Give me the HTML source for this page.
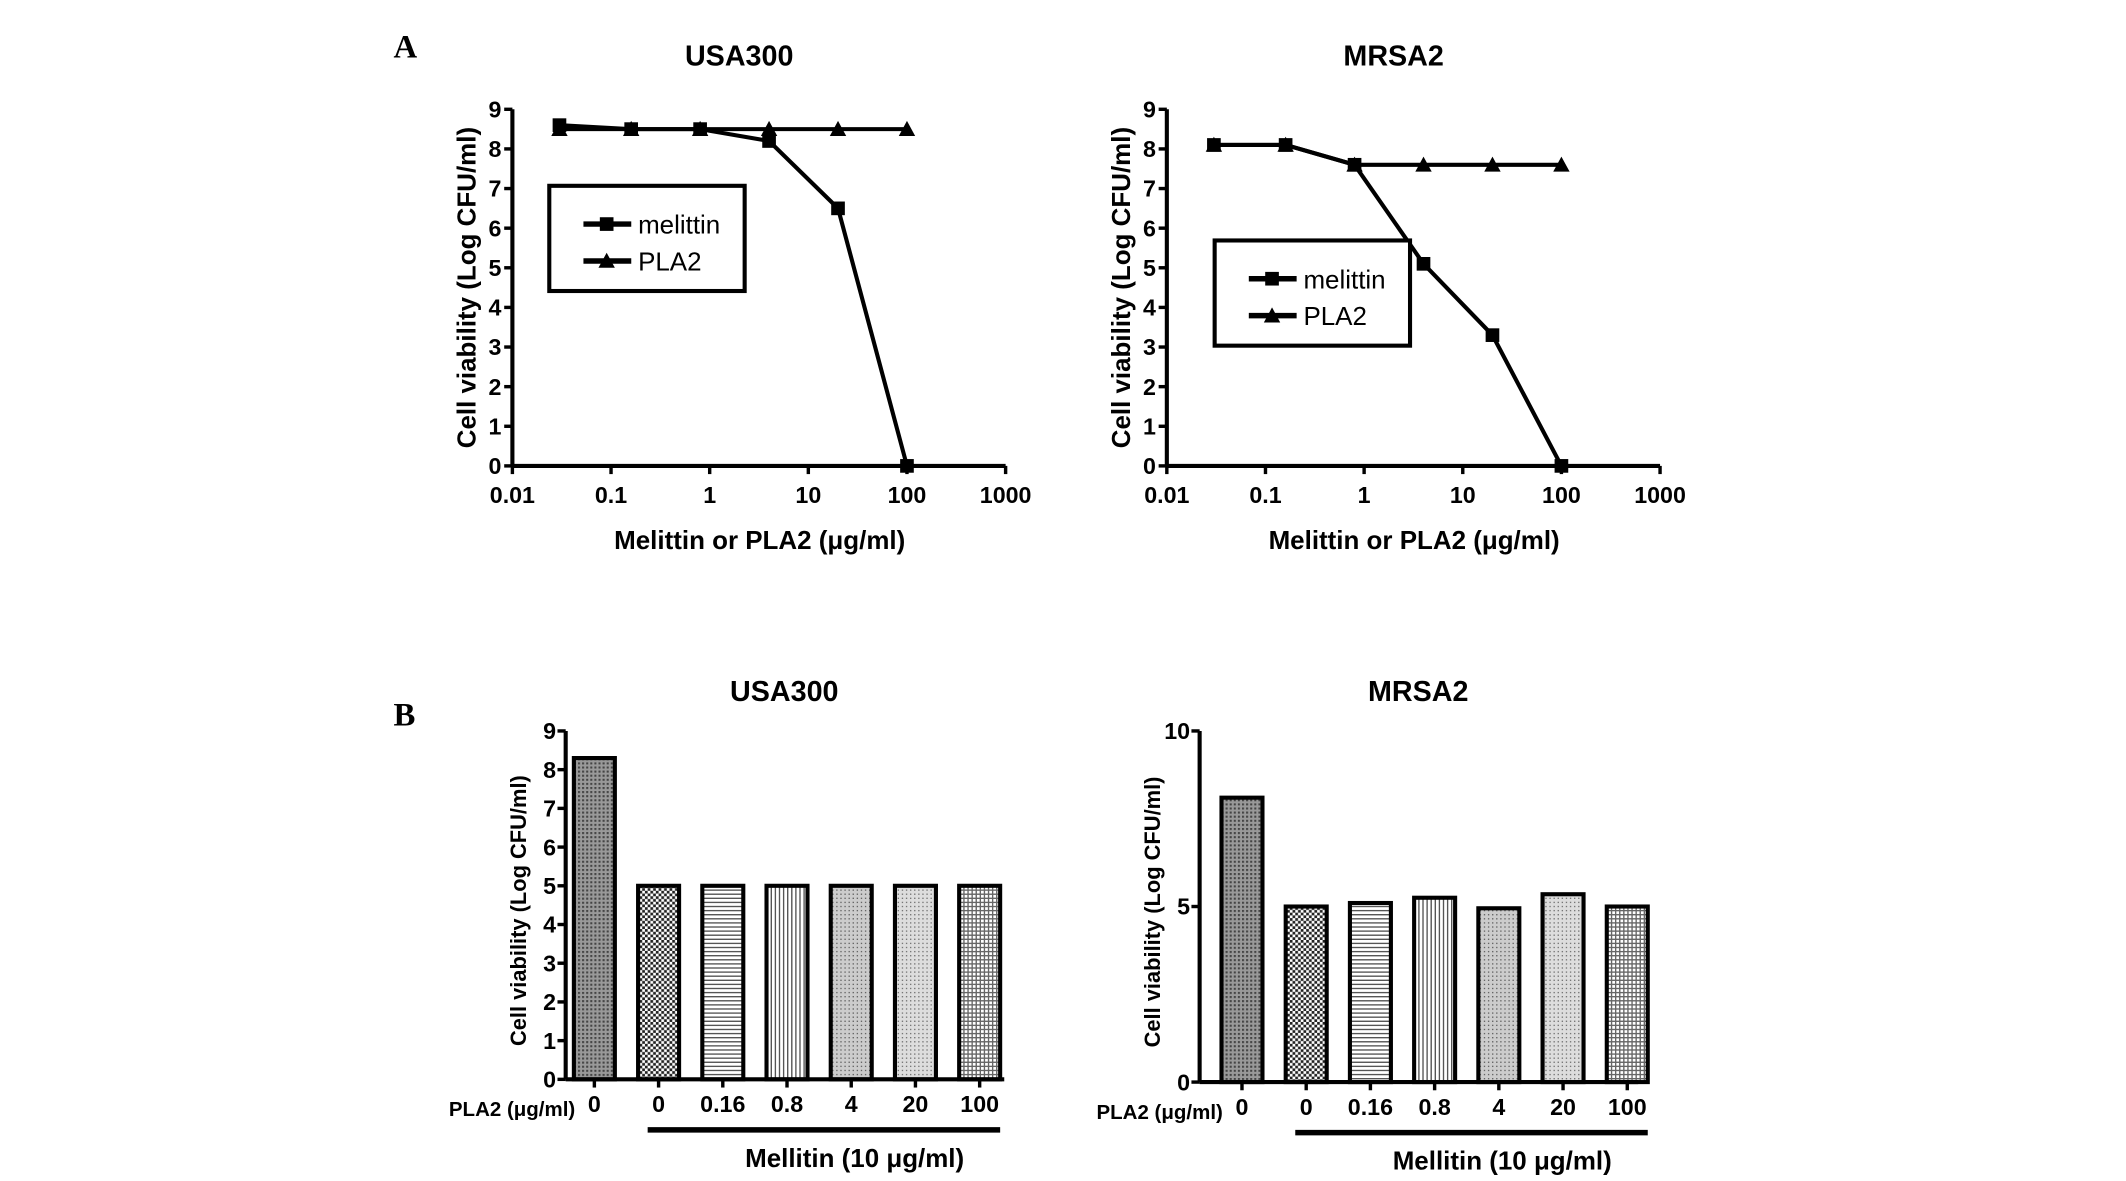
<!DOCTYPE html>
<html><head><meta charset="utf-8"><style>
html,body{margin:0;padding:0;background:#fff}
svg{display:block;font-family:"Liberation Sans",Arial,sans-serif}
</style></head><body>
<svg id="fig" width="2126" height="1181" viewBox="0 0 1556 864.4" xmlns="http://www.w3.org/2000/svg">
<defs>
<pattern id="p0" width="3" height="3" patternUnits="userSpaceOnUse"><rect width="3" height="3" fill="#999"/><rect width="1.5" height="1.5" fill="#444"/></pattern>
<pattern id="p1" width="4" height="4" patternUnits="userSpaceOnUse"><rect width="4" height="4" fill="#fff"/><rect width="2" height="2" fill="#222"/><rect x="2" y="2" width="2" height="2" fill="#222"/></pattern>
<pattern id="p2" width="4" height="3" patternUnits="userSpaceOnUse"><rect width="4" height="3" fill="#fff"/><rect width="4" height="1" fill="#555"/></pattern>
<pattern id="p3" width="3" height="4" patternUnits="userSpaceOnUse"><rect width="3" height="4" fill="#fff"/><rect width="1" height="4" fill="#555"/></pattern>
<pattern id="p4" width="3" height="3" patternUnits="userSpaceOnUse"><rect width="3" height="3" fill="#ccc"/><rect width="1" height="1" fill="#666"/></pattern>
<pattern id="p5" width="3" height="3" patternUnits="userSpaceOnUse"><rect width="3" height="3" fill="#ddd"/><rect width="1" height="1" fill="#777"/></pattern>
<pattern id="p6" width="3" height="3" patternUnits="userSpaceOnUse"><rect width="3" height="3" fill="#fff"/><rect width="3" height="1" fill="#666"/><rect width="1" height="3" fill="#666"/></pattern>
</defs>
<text x="288" y="42" font-family="Liberation Serif" font-weight="bold" font-size="24">A</text>
<text x="288" y="531" font-family="Liberation Serif" font-weight="bold" font-size="24">B</text>
</svg>
<script>
const concs = [0.03, 0.16, 0.8, 4, 20, 100];
const usaMelittin = [8.6, 8.5, 8.5, 8.2, 6.5, 0];
const usaPLA2 = [8.5, 8.5, 8.5, 8.5, 8.5, 8.5];
const mrsaMelittin = [8.1, 8.1, 7.6, 5.1, 3.3, 0];
const mrsaPLA2 = [8.1, 8.1, 7.6, 7.6, 7.6, 7.6];
const xTickLabels = ["0.01","0.1","1","10","100","1000"];
const barCategories = ["0","0","0.16","0.8","4","20","100"];
const usaBars = [8.3, 5, 5, 5, 5, 5, 5];
const mrsaBars = [8.1, 5.0, 5.1, 5.25, 4.95, 5.35, 5.0];

const NS = "http://www.w3.org/2000/svg";
const svg = document.getElementById('fig');
function mk(tag, attrs, parent, txt){
  const e = document.createElementNS(NS, tag);
  for (const k in attrs) e.setAttribute(k, attrs[k]);
  if (txt !== undefined) e.textContent = txt;
  (parent || svg).appendChild(e);
  return e;
}

function lineChart(ox, name, mel, pla, legX, legY, title){
  const g = mk('g', {});
  
  
  const y0 = 341, y9 = 80;
  const xs = v => ox + (Math.log10(v) + 2) * 72.2;
  const ys = v => y0 - v / 9 * (y0 - y9);
  const t = mk('text', {x: ox + 166, y: 48, 'text-anchor': 'middle', 'font-weight': 'bold', 'font-size': 21}, g, title);
  
  
  mk('line', {x1: ox, y1: y9, x2: ox, y2: y0, stroke: '#000', 'stroke-width': 3}, g);
  mk('line', {x1: ox, y1: y0, x2: ox + 361, y2: y0, stroke: '#000', 'stroke-width': 3}, g);
  for (let i = 0; i <= 9; i++) {
    mk('line', {x1: ox - 6, y1: ys(i), x2: ox, y2: ys(i), stroke: '#000', 'stroke-width': 2.5}, g);
    const l = mk('text', {x: ox - 8, y: ys(i) + 6, 'text-anchor': 'end', 'font-weight': 'bold', 'font-size': 17}, g, String(i));
    
    
  }
  xTickLabels.forEach((lab, i) => {
    const x = xs(parseFloat(lab));
    mk('line', {x1: x, y1: y0, x2: x, y2: y0 + 6, stroke: '#000', 'stroke-width': 2.5}, g);
    const l = mk('text', {x: x, y: y0 + 27, 'text-anchor': 'middle', 'font-weight': 'bold', 'font-size': 17}, g, lab);
    
    
  });
  const yt = mk('text', {x: 0, y: 0, transform: `translate(${ox - 27},${(y0 + y9) / 2}) rotate(-90)`, 'text-anchor': 'middle', 'font-weight': 'bold', 'font-size': 19}, g, 'Cell viability (Log CFU/ml)');
  
  
  const xt = mk('text', {x: ox + 181, y: y0 + 61, 'text-anchor': 'middle', 'font-weight': 'bold', 'font-size': 19}, g, 'Melittin or PLA2 (\u03bcg/ml)');
  
  
  const series = [[pla, 'pla2'], [mel, 'melittin']];
  series.forEach(([vals, nm]) => {
    const pts = vals.map((v, i) => xs(concs[i]) + ',' + ys(v)).join(' ');
    const pl = mk('polyline', {points: pts, fill: 'none', stroke: '#000', 'stroke-width': 3}, g);
    
    
    vals.forEach((v, i) => {
      const x = xs(concs[i]), y = ys(v);
      let m;
      if (nm === 'melittin') m = mk('rect', {x: x - 5, y: y - 5, width: 10, height: 10, fill: '#000'}, g);
      else m = mk('polygon', {points: `${x},${y - 6} ${x - 6},${y + 5} ${x + 6},${y + 5}`, fill: '#000'}, g);
      
      
    });
  });
  const lg = mk('g', {}, g);
  
  
  mk('rect', {x: legX, y: legY, width: 143, height: 77, fill: '#fff', stroke: '#000', 'stroke-width': 3}, lg);
  mk('line', {x1: legX + 25, y1: legY + 28, x2: legX + 60, y2: legY + 28, stroke: '#000', 'stroke-width': 4}, lg);
  mk('rect', {x: legX + 37, y: legY + 23, width: 10, height: 10, fill: '#000'}, lg);
  const t1 = mk('text', {x: legX + 65, y: legY + 35, 'font-size': 19}, lg, 'melittin');
  
  
  mk('line', {x1: legX + 25, y1: legY + 55, x2: legX + 60, y2: legY + 55, stroke: '#000', 'stroke-width': 4}, lg);
  mk('polygon', {points: `${legX + 42},${legY + 49} ${legX + 36},${legY + 60} ${legX + 48},${legY + 60}`, fill: '#000'}, lg);
  const t2 = mk('text', {x: legX + 65, y: legY + 62, 'font-size': 19}, lg, 'PLA2');
  
  
}

function barChart(ox, name, vals, ymax, ticks, y0, ytop, firstCx, title){
  const g = mk('g', {});
  
  
  const ys = v => y0 - v / ymax * (y0 - ytop);
  const step = 47;
  const bx = i => firstCx + i * step;
  const t = mk('text', {x: ox + 160, y: 513, 'text-anchor': 'middle', 'font-weight': 'bold', 'font-size': 21}, g, title);
  
  
  vals.forEach((v, i) => {
    const r = mk('rect', {x: bx(i) - 15, y: ys(v), width: 30, height: y0 - ys(v), fill: `url(#p${i})`, stroke: '#000', 'stroke-width': 3}, g);
    
    
    mk('line', {x1: bx(i), y1: y0, x2: bx(i), y2: y0 + 6, stroke: '#000', 'stroke-width': 2.5}, g);
    const l = mk('text', {x: bx(i), y: y0 + 24, 'text-anchor': 'middle', 'font-weight': 'bold', 'font-size': 17}, g, barCategories[i]);
    
    
  });
  mk('line', {x1: ox, y1: ytop, x2: ox, y2: y0, stroke: '#000', 'stroke-width': 3}, g);
  mk('line', {x1: ox, y1: y0, x2: ox + 321, y2: y0, stroke: '#000', 'stroke-width': 3}, g);
  ticks.forEach(v => {
    mk('line', {x1: ox - 6, y1: ys(v), x2: ox, y2: ys(v), stroke: '#000', 'stroke-width': 2.5}, g);
    const l = mk('text', {x: ox - 7, y: ys(v) + 6, 'text-anchor': 'end', 'font-weight': 'bold', 'font-size': 17}, g, String(v));
    
    
  });
  const yt = mk('text', {x: 0, y: 0, transform: `translate(${ox - 29},${(y0 + ytop) / 2 + 4}) rotate(-90)`, 'text-anchor': 'middle', 'font-weight': 'bold', 'font-size': 16}, g, 'Cell viability (Log CFU/ml)');
  
  
  const pl = mk('text', {x: bx(0) - 14, y: y0 + 27, 'text-anchor': 'end', 'font-weight': 'bold', 'font-size': 15}, g, 'PLA2 (\u03bcg/ml)');
  
  
  mk('line', {x1: bx(1) - 8, y1: y0 + 37, x2: bx(6) + 15, y2: y0 + 37, stroke: '#000', 'stroke-width': 4}, g);
  const ml = mk('text', {x: (bx(1) + bx(6)) / 2 + 26, y: y0 + 64, 'text-anchor': 'middle', 'font-weight': 'bold', 'font-size': 19}, g, 'Mellitin (10 \u03bcg/ml)');
  
  
}

lineChart(375, 'chart-a-usa300', usaMelittin, usaPLA2, 402, 136, 'USA300');
lineChart(854, 'chart-a-mrsa2', mrsaMelittin, mrsaPLA2, 889, 176, 'MRSA2');
barChart(414, 'chart-b-usa300', usaBars, 9, [0,1,2,3,4,5,6,7,8,9], 790, 535, 435, 'USA300');
barChart(878, 'chart-b-mrsa2', mrsaBars, 10, [0,5,10], 792, 535, 909, 'MRSA2');
</script>
</body></html>
